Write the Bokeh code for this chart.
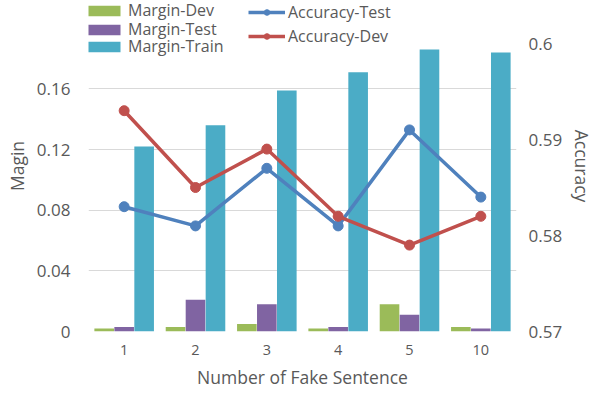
from bokeh.plotting import figure
from bokeh.models import (ColumnDataSource, FactorRange, Range1d, LinearAxis, FixedTicker,
                          CustomJSTickFormatter, Legend, LegendItem)
from bokeh.transform import dodge
from bokeh.embed import file_html
from bokeh.resources import INLINE

cats = ["1", "2", "3", "4", "5", "10"]
margin_dev = [0.002, 0.003, 0.005, 0.002, 0.018, 0.003]
margin_test = [0.003, 0.021, 0.018, 0.003, 0.011, 0.002]
margin_train = [0.122, 0.136, 0.159, 0.171, 0.186, 0.184]
acc_test = [0.583, 0.581, 0.587, 0.581, 0.591, 0.584]
acc_dev = [0.593, 0.585, 0.589, 0.582, 0.579, 0.582]
left_ticks = [0, 0.04, 0.08, 0.12, 0.16]
right_ticks = [0.57, 0.58, 0.59, 0.6]

src = ColumnDataSource(dict(cat=cats, dev=margin_dev, test=margin_test, train=margin_train,
                            acc_test=acc_test, acc_dev=acc_dev))

FONT = "Open Sans"
TXT = "#595959"
GRID = "#D9D9D9"

# plot area: values 0..0.19 (left) / 0.57..0.60 (right) occupy the lower PLOT_H px;
# the frame extends TOP_H px higher so the key above the plot area is not clipped
PLOT_H = 288
TOP_H = 43
EXT = (PLOT_H + TOP_H) / PLOT_H
LEFT_MAX = 0.19
RIGHT_MIN, RIGHT_MAX = 0.57, 0.60

p = figure(x_range=FactorRange(*cats, range_padding=0), y_range=Range1d(0, LEFT_MAX * EXT),
           frame_width=428, frame_height=PLOT_H + TOP_H, output_backend="svg", toolbar_location=None,
           min_border_left=88, min_border_right=81, min_border_top=0, min_border_bottom=59)
p.outline_line_color = None
p.background_fill_color = "white"
p.extra_y_ranges = {"acc": Range1d(RIGHT_MIN, RIGHT_MIN + (RIGHT_MAX - RIGHT_MIN) * EXT)}

fmt = CustomJSTickFormatter(code="return String(Number(tick.toFixed(2)));")

ya = p.yaxis[0]
ya.ticker = FixedTicker(ticks=left_ticks)
ya.formatter = fmt
ya.axis_label = "Magin"

ra = LinearAxis(y_range_name="acc", ticker=FixedTicker(ticks=right_ticks), formatter=fmt,
                axis_label="Accuracy")
p.add_layout(ra, "right")

xa = p.xaxis[0]
xa.axis_label = "Number of Fake Sentence"

for ax in (ya, ra, xa):
    ax.axis_line_color = None
    ax.major_tick_line_color = None
    ax.minor_tick_line_color = None
    ax.major_tick_out = 0
    ax.major_tick_in = 0
    ax.minor_tick_out = 0
    ax.minor_tick_in = 0
    ax.major_label_text_font = FONT
    ax.major_label_text_color = TXT
    ax.major_label_text_line_height = 1.0
    ax.axis_label_text_font = FONT
    ax.axis_label_text_color = TXT
    ax.axis_label_text_font_style = "normal"
    ax.axis_label_text_font_size = "17.5px"
    ax.axis_label_text_line_height = 1.0

ya.major_label_text_font_size = "17px"
ra.major_label_text_font_size = "17px"
xa.major_label_text_font_size = "14.5px"
ya.major_label_standoff = 18
ra.major_label_standoff = 12
xa.major_label_standoff = 13
ya.axis_label_standoff = 5
ra.axis_label_standoff = 5
xa.axis_label_standoff = 7

p.xgrid.grid_line_color = None
p.ygrid.ticker = FixedTicker(ticks=left_ticks)
p.ygrid.grid_line_color = GRID
p.ygrid.grid_line_width = 1

w = 0.275
r_dev = p.vbar(x=dodge("cat", -0.28, range=p.x_range), top="dev", width=w, source=src,
               fill_color="#9BBB59", line_color=None)
r_test = p.vbar(x=dodge("cat", 0.0, range=p.x_range), top="test", width=w, source=src,
                fill_color="#8064A2", line_color=None)
r_train = p.vbar(x=dodge("cat", 0.28, range=p.x_range), top="train", width=w, source=src,
                 fill_color="#4BACC6", line_color=None)

BLUE = "#4F81BD"
RED = "#C0504D"
l_test = p.line(x="cat", y="acc_test", source=src, y_range_name="acc", line_color=BLUE, line_width=3.5)
m_test = p.scatter(x="cat", y="acc_test", source=src, y_range_name="acc", size=10,
                   fill_color=BLUE, line_color=BLUE)
l_dev = p.line(x="cat", y="acc_dev", source=src, y_range_name="acc", line_color=RED, line_width=3.5)
m_dev = p.scatter(x="cat", y="acc_dev", source=src, y_range_name="acc", size=10,
                  fill_color=RED, line_color=RED)

# one legend per entry, arranged like the reference's two-column key
entries = [
    ("Margin-Dev", [r_dev], (-4, 310), 40, 13, 4),
    ("Margin-Test", [r_test], (-4, 291), 40, 13, 4),
    ("Margin-Train", [r_train], (-4, 274), 40, 13, 4),
    ("Accuracy-Test", [l_test, m_test], (160, 308), 37, 14, 3),
    ("Accuracy-Dev", [l_dev, m_dev], (160, 284), 37, 14, 3),
]
for label, rends, loc, gw, gh, st in entries:
    lg = Legend(items=[LegendItem(label=label, renderers=rends)], location=loc)
    lg.glyph_width = gw
    lg.glyph_height = gh
    lg.label_height = 18
    lg.spacing = 0
    lg.label_standoff = st
    lg.padding = 0
    lg.margin = 0
    lg.border_line_color = None
    lg.background_fill_alpha = 0
    lg.label_text_font = FONT
    lg.label_text_font_size = "16px"
    lg.label_text_color = TXT
    lg.label_text_line_height = 1.0
    p.add_layout(lg, "center")

open("out.html", "w").write(file_html(p, INLINE))
